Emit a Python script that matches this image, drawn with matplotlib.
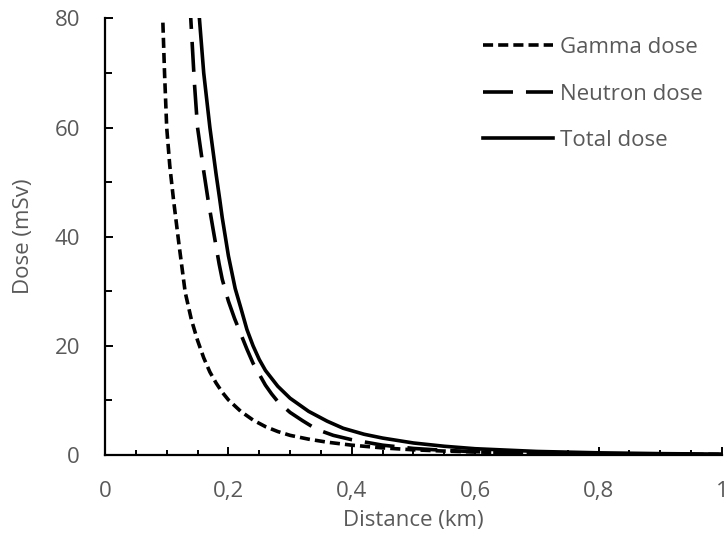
import matplotlib
matplotlib.use("Agg")
import matplotlib.pyplot as plt
from matplotlib.ticker import MultipleLocator, FixedLocator

plt.rcParams['font.family'] = ['Open Sans', 'DejaVu Sans']

gamma_x = [0.093, 0.0965, 0.100, 0.105, 0.111, 0.12, 0.13, 0.14, 0.15, 0.16, 0.17,
           0.18, 0.19, 0.20, 0.22, 0.24, 0.26, 0.28, 0.30, 0.33, 0.36, 0.40, 0.45,
           0.50, 0.55, 0.60, 0.70, 0.80, 0.90, 1.00]
gamma_y = [82, 70, 60, 53, 46.8, 38.5, 29.8, 24.8, 21, 17.8, 15.2,
           13.2, 11.5, 10.1, 8.0, 6.4, 5.2, 4.3, 3.6, 2.9, 2.35, 1.8, 1.3,
           0.95, 0.72, 0.55, 0.33, 0.21, 0.14, 0.09]

neutron_x = [0.137, 0.140, 0.145, 0.150, 0.160, 0.167, 0.175, 0.185, 0.190, 0.200,
             0.210, 0.220, 0.230, 0.240, 0.250, 0.260, 0.270, 0.280, 0.300, 0.320,
             0.343, 0.370, 0.400, 0.450, 0.500, 0.550, 0.600, 0.700, 0.800, 0.900, 1.000]
neutron_y = [84, 78, 68, 60, 52, 46.8, 41.5, 35, 32.2, 28.2,
             25, 22.2, 19.4, 16.8, 14.8, 12.8, 11.2, 9.8, 7.8, 6.3,
             4.7, 3.6, 2.8, 1.8, 1.2, 0.85, 0.6, 0.33, 0.2, 0.12, 0.08]

total_x = [0.150, 0.153, 0.160, 0.170, 0.180, 0.186, 0.190, 0.200, 0.211, 0.220,
           0.230, 0.240, 0.250, 0.260, 0.280, 0.300, 0.330, 0.360, 0.386, 0.420,
           0.450, 0.500, 0.550, 0.600, 0.700, 0.800, 0.900, 1.000]
total_y = [86, 80, 70, 60, 51.5, 46.8, 43.5, 36.5, 30.5, 27,
           23, 20, 17.5, 15.5, 12.6, 10.4, 8.0, 6.2, 4.9, 3.8,
           3.1, 2.2, 1.6, 1.15, 0.65, 0.4, 0.25, 0.16]

x_ticks = [0, 0.2, 0.4, 0.6, 0.8, 1.0]
x_ticklabels = ["0", "0,2", "0,4", "0,6", "0,8", "1"]
y_ticks = [0, 20, 40, 60, 80]
y_ticklabels = ["0", "20", "40", "60", "80"]

grey = "#595959"
FS = 16

fig = plt.figure(figsize=(7.27, 5.42), dpi=100)
ax = fig.add_axes([0.14443, 0.16052, 0.84869, 0.80553])

lw = 2.6
ax.plot(gamma_x, gamma_y, color="black", lw=lw, linestyle=(0, (2.8, 1.4)),
        dash_capstyle="butt", label="Gamma dose")
ax.plot(neutron_x, neutron_y, color="black", lw=lw, linestyle=(0, (8.3, 3.6)),
        dash_capstyle="butt", label="Neutron dose")
ax.plot(total_x, total_y, color="black", lw=lw, label="Total dose")

ax.set_xlim(0, 1)
ax.set_ylim(0, 80)

ax.xaxis.set_major_locator(FixedLocator(x_ticks))
ax.set_xticklabels(x_ticklabels)
ax.xaxis.set_minor_locator(MultipleLocator(0.05))
ax.yaxis.set_major_locator(FixedLocator(y_ticks))
ax.set_yticklabels(y_ticklabels)
ax.yaxis.set_minor_locator(MultipleLocator(10))

for s in ["top", "right"]:
    ax.spines[s].set_visible(False)
for s in ["left", "bottom"]:
    ax.spines[s].set_linewidth(1.6)
    ax.spines[s].set_color("black")

ax.tick_params(axis="both", which="both", direction="in", width=1.4, color="black",
               labelsize=FS, labelcolor=grey)
ax.tick_params(axis="x", which="major", length=5.5, pad=19)
ax.tick_params(axis="x", which="minor", length=3.5)
ax.tick_params(axis="y", which="major", length=5.5, pad=18)
ax.tick_params(axis="y", which="minor", length=5)

ax.set_xlabel("Distance (km)", fontsize=FS, color=grey)
ax.set_ylabel("Dose (mSv)", fontsize=FS, color=grey)
ax.xaxis.set_label_coords(0.5, -0.126)
ax.yaxis.set_label_coords(-0.115, 0.5)

leg = ax.legend(loc="upper left", frameon=False, fontsize=FS, handlelength=3.15,
                handletextpad=0.3, labelspacing=1.15, borderpad=0, borderaxespad=0,
                bbox_to_anchor=(483 / 727, 1 - 37 / 542),
                bbox_transform=fig.transFigure)
for t in leg.get_texts():
    t.set_color(grey)

fig.savefig("out.png", dpi=100)
